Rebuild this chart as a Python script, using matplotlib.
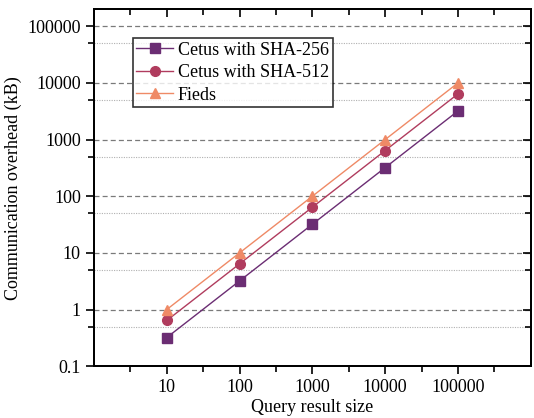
import matplotlib.pyplot as plt
from matplotlib.ticker import FixedLocator, NullFormatter

plt.rcParams['font.family'] = ['Liberation Serif', 'DejaVu Serif']

# query result sizes and overhead in kB
sizes = [10, 100, 1000, 10000, 100000]
sha256 = [0.32, 3.2, 32, 320, 3200]
sha512 = [0.64, 6.4, 64, 640, 6400]
fieds = [1, 10, 100, 1000, 10000]

labels = ["Cetus with SHA-256", "Cetus with SHA-512", "Fieds"]
colors = ['#6b2d73', '#b03c5e', '#ef8a66']
markers = ['s', 'o', '^']

yt = [0.1, 1, 10, 100, 1000, 10000, 100000]
ytl = ['0.1', '1', '10', '100', '1000', '10000', '100000']
xminor = [10 ** (k + 0.5) for k in range(6)]
yminor = [5 * v for v in yt]

fig = plt.figure(figsize=(5.34, 4.18), dpi=100)
ax = fig.add_axes([0.176, 0.124, 0.818, 0.854])

for ys, lab, c, m in zip([sha256, sha512, fieds], labels, colors, markers):
    ax.plot(sizes, ys, color=c, marker=m, markersize=7, linewidth=1, label=lab)

ax.set_xscale('log')
ax.set_yscale('log')
ax.set_xlim(1, 1e6)
ax.set_ylim(0.1, 2e5)

def set_locs(a):
    a.xaxis.set_major_locator(FixedLocator(sizes))
    a.xaxis.set_minor_locator(FixedLocator(xminor))
    a.xaxis.set_minor_formatter(NullFormatter())
    a.yaxis.set_major_locator(FixedLocator(yt))
    a.yaxis.set_minor_locator(FixedLocator(yminor))
    a.yaxis.set_minor_formatter(NullFormatter())

set_locs(ax)
ax.set_xticklabels([str(s) for s in sizes])
ax.set_yticklabels(ytl)
ax.tick_params(which='both', direction='out', labelsize=13, width=1.2)
ax.tick_params(which='major', length=6)
ax.tick_params(which='minor', length=4)

# top and right ticks point inward
axt = ax.twiny()
axt.set_xscale('log')
axt.set_xlim(ax.get_xlim())
axr = ax.twinx()
axr.set_yscale('log')
axr.set_ylim(ax.get_ylim())
for a in (axt, axr):
    set_locs(a)
    a.tick_params(which='both', direction='in', width=1.2, labeltop=False,
                  labelright=False, labelleft=False, labelbottom=False)
    a.tick_params(which='major', length=6)
    a.tick_params(which='minor', length=4)
    for sp in a.spines.values():
        sp.set_linewidth(1.2)

for sp in ax.spines.values():
    sp.set_linewidth(1.2)

ax.grid(axis='y', which='major', linestyle=(0, (4, 2.5)), color='#7a7a7a', linewidth=0.9)
ax.grid(axis='y', which='minor', linestyle=(0, (1, 1.2)), color='#b0b0b0', linewidth=0.8)

ax.set_xlabel('Query result size', fontsize=13, labelpad=2)
ax.set_ylabel('Communication overhead (kB)', fontsize=13)

leg = ax.legend(loc='upper left', bbox_to_anchor=(0.089, 0.919), fontsize=13,
                frameon=True, fancybox=False, edgecolor='black',
                handlelength=2.0, borderpad=0.2, labelspacing=0.3,
                handletextpad=0.3, borderaxespad=0)
leg.get_frame().set_linewidth(1.2)
leg.set_zorder(10)

fig.savefig('out.png', dpi=100)
